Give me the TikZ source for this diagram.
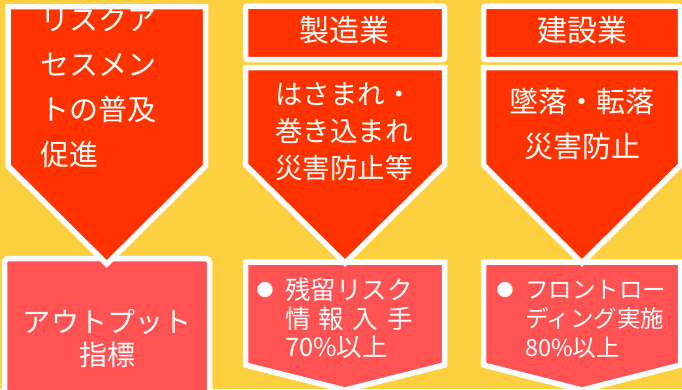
\documentclass[tikz,border=0pt]{standalone}
\usepackage{fontspec}
\newfontfamily\jp{Noto Sans CJK JP}
\definecolor{bg}{RGB}{252,208,62}
\definecolor{arrowred}{RGB}{255,51,0}
\definecolor{boxred}{RGB}{255,82,82}
\tikzset{
  frame/.style={draw=white, line width=5.5pt, line join=miter},
  arrowshape/.style={frame, fill=arrowred},
  boxshape/.style={frame, fill=boxred},
  txt/.style={text=white, inner sep=0pt, outer sep=0pt},
  bulletmark/.style={txt, font=\jp\fontsize{17pt}{17pt}\selectfont},
}
\begin{document}
\begin{tikzpicture}[x=1pt,y=-1pt]
\useasboundingbox (0,0) rectangle (682,389);
\fill[bg] (0,0) rectangle (682,389);

% bottom boxes
\draw[boxshape, rounded corners=4pt] (4.5,400) -- (4.5,258.5) -- (209.5,258.5) -- (209.5,400);
\draw[boxshape] (245.5,262) -- (444.5,262) -- (444.5,365) -- (345,390) -- (245.5,365) -- cycle;
\draw[boxshape] (483.5,262) -- (680.5,262) -- (680.5,365) -- (582,390) -- (483.5,365) -- cycle;

% headers
\draw[arrowshape, rounded corners=2pt] (245.5,6) rectangle (444.5,59.5);
\draw[arrowshape, rounded corners=2pt] (483.5,6) rectangle (680.5,59.5);

% arrows
\draw[arrowshape] (8,6.5) -- (205.5,6.5) -- (205.5,166) -- (106.75,264) -- (8,166) -- cycle;
\draw[arrowshape] (245.5,67.5) -- (444.5,67.5) -- (444.5,165) -- (345,263) -- (245.5,165) -- cycle;
\draw[arrowshape] (483.5,67.5) -- (680.5,67.5) -- (680.5,165) -- (582,263) -- (483.5,165) -- cycle;

% texts
\node[txt, anchor=west, align=left, font=\jp\fontsize{29pt}{45pt}\selectfont] (ra) at (40,87.5) {リスクア\\セスメン\\トの普及\\促進};
\node[txt, font=\jp\fontsize{30pt}{30pt}\selectfont] (mfg) at (344.5,30) {製造業};
\node[txt, font=\jp\fontsize{30pt}{30pt}\selectfont] (con) at (582.5,30) {建設業};
\node[txt, anchor=west, align=left, font=\jp\fontsize{27.5pt}{36.7pt}\selectfont] (mfgtxt) at (275,131.7) {はさまれ・\\巻き込まれ\\災害防止等};
\node[txt, align=center, font=\jp\fontsize{29pt}{45pt}\selectfont] (contxt) at (582,124.5) {墜落・転落\\災害防止};
\node[txt, align=center, font=\jp\fontsize{28pt}{33pt}\selectfont] (out) at (107,338.5) {アウトプット\\指標};
\node[bulletmark] (b1) at (265,290) {●};
\node[txt, anchor=west, align=left, font=\jp\fontsize{25.5pt}{28.5pt}\selectfont] (m1) at (285,318.5) {残留リスク\\\makebox[5em][s]{情\hfill 報\hfill 入\hfill 手}\\70\%以上};
\node[bulletmark] (b2) at (505,290) {●};
\node[txt, anchor=west, align=left, font=\jp\fontsize{23.5pt}{29pt}\selectfont] (c1) at (525,319) {フロントロー\\ディング実施\\80\%以上};
\end{tikzpicture}
\end{document}
